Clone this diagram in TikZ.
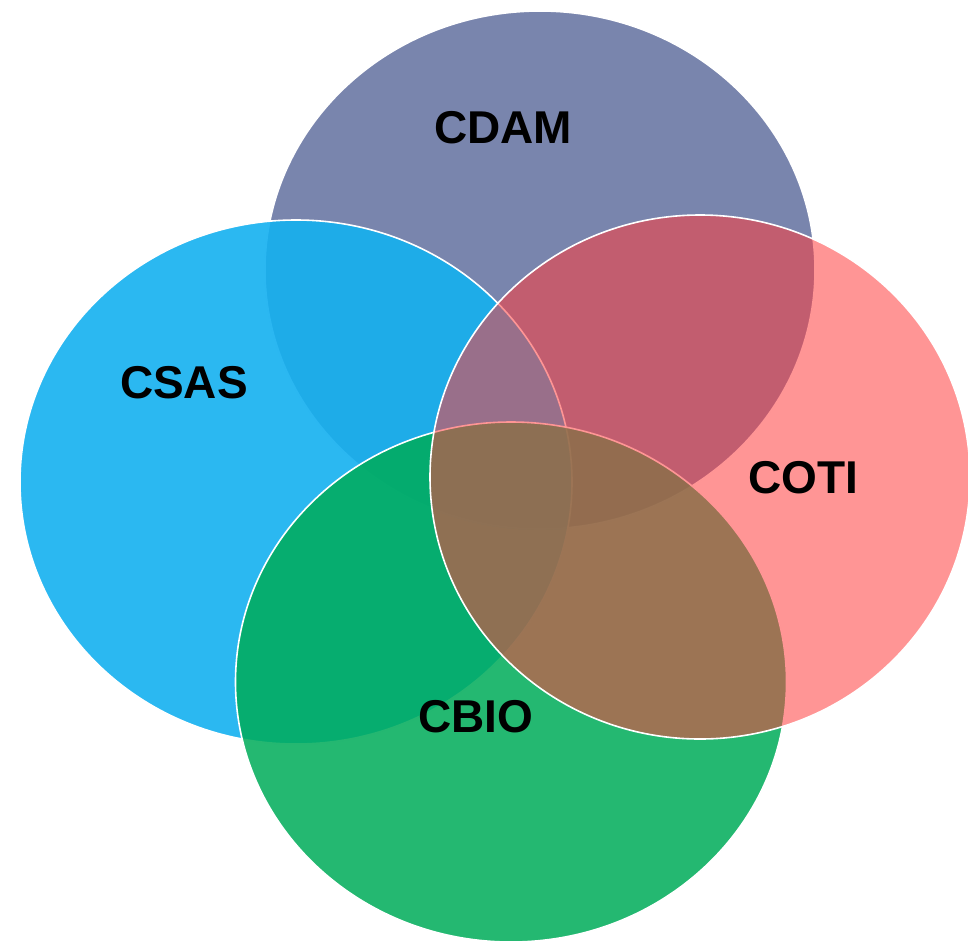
\documentclass[tikz,border=0pt]{standalone}
\usepackage{fontspec}
\setmainfont{Liberation Sans}
\usetikzlibrary{shapes.geometric}
\definecolor{cdamc}{RGB}{88,102,152}
\definecolor{csasc}{RGB}{20,176,240}
\definecolor{cotic}{RGB}{255,62,62}
\definecolor{cbioc}{RGB}{0,172,90}
\tikzset{
  setel/.style={ellipse, inner sep=0pt, draw=white, line width=1.6pt},
  lbl/.style={font=\fontsize{46}{50}\selectfont\bfseries, text=black, inner sep=0pt}
}
\begin{document}
\begin{tikzpicture}[x=1pt, y=-1pt]
\useasboundingbox (0,0) rectangle (968,940);
\node[setel, fill=cdamc, fill opacity=0.8, minimum width=550pt, minimum height=518pt] (cdam) at (540,270) {};
\node[setel, fill=csasc, fill opacity=0.9, minimum width=552pt, minimum height=524pt] (csas) at (296,482) {};
\node[setel, fill=cbioc, fill opacity=0.86, minimum width=551pt, minimum height=520pt] (cbio) at (511,682) {};
\node[setel, fill=cotic, fill opacity=0.55, minimum width=540pt, minimum height=524pt] (coti) at (700,477) {};
\node[lbl] (tcdam) at (503,128) {CDAM};
\node[lbl] (tcsas) at (184,383) {CSAS};
\node[lbl] (tcoti) at (803,478) {COTI};
\node[lbl] (tcbio) at (476,717) {CBIO};
\end{tikzpicture}
\end{document}
